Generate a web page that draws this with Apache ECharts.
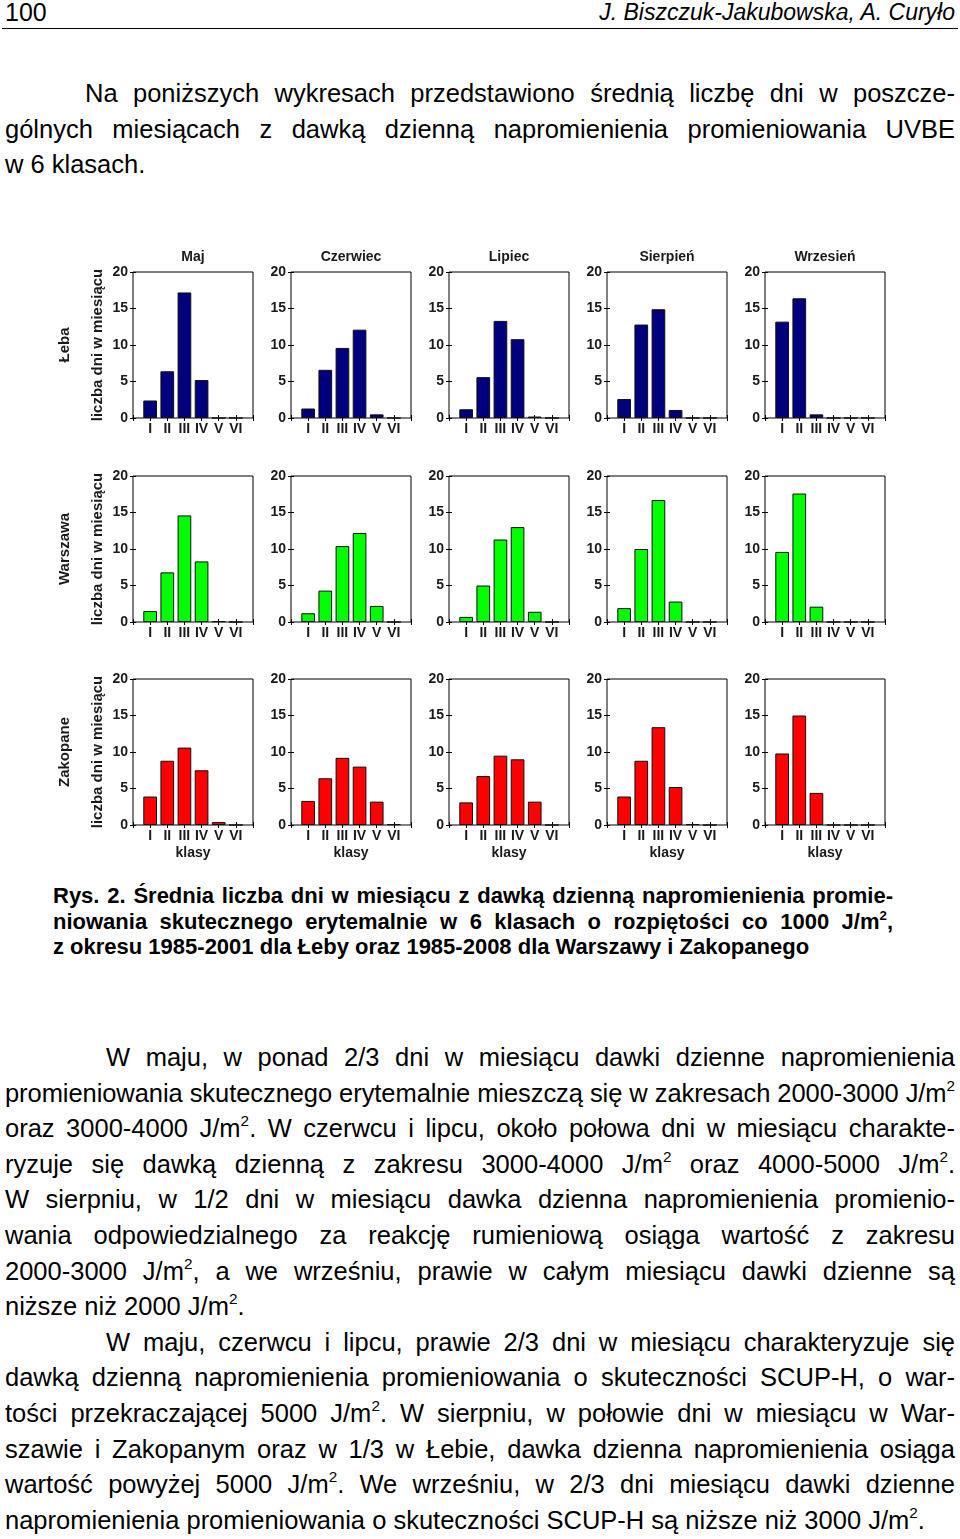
<!DOCTYPE html>
<html>
<head>
<meta charset="utf-8">
<script src="https://cdn.jsdelivr.net/npm/echarts/dist/echarts.min.js"></script>
<style>
    html, body { margin: 0; padding: 0; background: #fff; }
    body { width: 960px; height: 1539px; position: relative; overflow: hidden;
           font-family: 'Liberation Sans', Arial, sans-serif; color: #000; }
    .line { position: absolute; white-space: nowrap; }
    .body { font-size: 25.5px; line-height: 36px; }
    .cap { font-size: 22px; line-height: 26px; font-weight: bold; }
    sup { font-size: 60%; line-height: 0; vertical-align: 0.7em; }
    #rule { position: absolute; left: 2px; top: 28px; width: 956px; height: 0; border-top: 1.5px solid #000; }
    #fig { position: absolute; left: 0; top: 240px; width: 960px; height: 630px; }
</style>
</head>
<body>
<div class="line body" style="left:5px;top:-6px;font-size:25px;">100</div>
<div class="line body" style="right:5px;top:-6px;font-size:23px;font-style:italic;">J. Biszczuk-Jakubowska, A. Curyło</div>
<div id="rule"></div>
<div id="text"></div>
<div id="fig"></div>
<script>
// klasy dawki dziennej (oś X)
const classes = ['I', 'II', 'III', 'IV', 'V', 'VI']
const months = ['Maj', 'Czerwiec', 'Lipiec', 'Sierpień', 'Wrzesień']
const stations = ['Łeba', 'Warszawa', 'Zakopane']

// liczba dni w miesiącu, kolejno: maj, czerwiec, lipiec, sierpień, wrzesień
const leba = [
    [2.4, 6.4, 17.2, 5.2, 0, 0],
    [1.3, 6.6, 9.6, 12.1, 0.5, 0],
    [1.2, 5.6, 13.3, 10.8, 0.2, 0],
    [2.6, 12.8, 14.9, 1.1, 0, 0],
    [13.2, 16.4, 0.5, 0, 0, 0]
]
const warszawa = [
    [1.5, 6.8, 14.6, 8.3, 0.1, 0],
    [1.2, 4.3, 10.4, 12.2, 2.2, 0],
    [0.7, 5.0, 11.3, 13.0, 1.4, 0],
    [1.9, 10.0, 16.7, 2.8, 0, 0],
    [9.6, 17.6, 2.1, 0, 0, 0]
]
const zakopane = [
    [3.9, 8.8, 10.6, 7.5, 0.4, 0],
    [3.3, 6.4, 9.2, 8.0, 3.2, 0.1],
    [3.1, 6.7, 9.5, 9.0, 3.2, 0],
    [3.9, 8.8, 13.4, 5.2, 0.1, 0],
    [9.8, 15.0, 4.4, 0, 0, 0]
]
const yTicks = [0, 5, 10, 15, 20]

// ---- tekst strony: [klasa, x, y środka, szerokość do wyjustowania (0 = bez)] ----
const textLines = [
    ['body', 85, 93, 870, 'Na poniższych wykresach przedstawiono średnią liczbę dni w poszcze-'],
    ['body', 5, 128.6, 950, 'gólnych miesiącach z dawką dzienną napromienienia promieniowania UVBE'],
    ['body', 5, 164.2, 0, 'w 6 klasach.'],
    ['cap', 53, 896, 840, 'Rys. 2. Średnia liczba dni w miesiącu z dawką dzienną napromienienia promie-'],
    ['cap', 53, 921.7, 840, 'niowania skutecznego erytemalnie w 6 klasach o rozpiętości co 1000 J/m<sup>2</sup>,'],
    ['cap', 53, 947.4, 0, 'z okresu 1985-2001 dla Łeby oraz 1985-2008 dla Warszawy i Zakopanego'],
    ['body', 106, 1057, 849, 'W maju, w ponad 2/3 dni w miesiącu dawki dzienne napromienienia'],
    ['body', 5, 1092.6, 950, 'promieniowania skutecznego erytemalnie mieszczą się w zakresach 2000-3000 J/m<sup>2</sup>'],
    ['body', 5, 1128.2, 950, 'oraz 3000-4000 J/m<sup>2</sup>. W czerwcu i lipcu, około połowa dni w miesiącu charakte-'],
    ['body', 5, 1163.8, 950, 'ryzuje się dawką dzienną z zakresu 3000-4000 J/m<sup>2</sup> oraz 4000-5000 J/m<sup>2</sup>.'],
    ['body', 5, 1199.4, 950, 'W sierpniu, w 1/2 dni w miesiącu dawka dzienna napromienienia promienio-'],
    ['body', 5, 1235, 950, 'wania odpowiedzialnego za reakcję rumieniową osiąga wartość z zakresu'],
    ['body', 5, 1270.6, 950, '2000-3000 J/m<sup>2</sup>, a we wrześniu, prawie w całym miesiącu dawki dzienne są'],
    ['body', 5, 1306.2, 0, 'niższe niż 2000 J/m<sup>2</sup>.'],
    ['body', 106, 1341.8, 849, 'W maju, czerwcu i lipcu, prawie 2/3 dni w miesiącu charakteryzuje się'],
    ['body', 5, 1377.4, 950, 'dawką dzienną napromienienia promieniowania o skuteczności SCUP-H, o war-'],
    ['body', 5, 1413, 950, 'tości przekraczającej 5000 J/m<sup>2</sup>. W sierpniu, w połowie dni w miesiącu w War-'],
    ['body', 5, 1448.6, 950, 'szawie i Zakopanym oraz w 1/3 w Łebie, dawka dzienna napromienienia osiąga'],
    ['body', 5, 1484.2, 950, 'wartość powyżej 5000 J/m<sup>2</sup>. We wrześniu, w 2/3 dni miesiącu dawki dzienne'],
    ['body', 5, 1519.8, 0, 'napromienienia promieniowania o skuteczności SCUP-H są niższe niż 3000 J/m<sup>2</sup>.']
]

const textBox = document.getElementById('text')
textLines.forEach(([cls, x, y, w, html]) => {
    const el = document.createElement('div')
    el.className = 'line ' + cls
    el.innerHTML = html
    const lh = cls === 'cap' ? 26 : 36
    el.style.left = x + 'px'
    el.style.top = (y - lh / 2) + 'px'
    textBox.appendChild(el)
    if (w) {
        // justowanie: rozciągnij odstępy między wyrazami, albo ściśnij litery
        const natural = el.getBoundingClientRect().width
        const txt = el.textContent
        const spaces = (txt.match(/ /g) || []).length
        if (natural <= w) {
            el.style.wordSpacing = ((w - natural) / spaces) + 'px'
        } else {
            el.style.letterSpacing = ((w - natural) / txt.length) + 'px'
        }
    }
})

// ---- wykresy ----
const stationData = [leba, warszawa, zakopane]
const barColors = ['#00007f', '#00ff00', '#ff0000']
const colLeft = [133, 291, 449, 607, 765]
const rowTop = [32, 236, 439]
const font = 'Liberation Sans'
const labelStyle = { fontFamily: font, fontSize: 14, fontWeight: 'bold', color: '#1a1a1a' }
const nameStyle = { fontFamily: font, fontSize: 15, fontWeight: 'bold', color: '#1a1a1a' }

const grid = []
const xAxis = []
const yAxis = []
const series = []

stationData.forEach((station, r) => {
    station.forEach((values, c) => {
        const g = grid.length
        grid.push({
            left: colLeft[c], top: rowTop[r], width: 120, height: 146,
            show: true, borderColor: '#000', borderWidth: 1, backgroundColor: '#fff',
            containLabel: false
        })
        const tick = { inside: true, length: 3, lineStyle: { color: '#000', width: 1 } }
        // oś dolna z klasami
        xAxis.push({
            gridIndex: g, type: 'value', position: 'bottom', min: 0, max: 7, interval: 1,
            axisLine: { show: false }, axisTick: tick, splitLine: { show: false },
            axisLabel: Object.assign({ margin: 4, formatter: v => classes[v - 1] || '' }, labelStyle),
            name: r === 2 ? 'klasy' : '', nameLocation: 'middle', nameGap: 21,
            nameTextStyle: labelStyle
        })
        const xb = xAxis.length - 1
        // oś górna (lustrzane znaczniki + nazwa miesiąca)
        xAxis.push({
            gridIndex: g, type: 'value', position: 'top', min: 0, max: 7, interval: 1,
            axisLine: { show: false }, axisTick: tick, splitLine: { show: false },
            axisLabel: { show: false },
            name: r === 0 ? months[c] : '', nameLocation: 'middle', nameGap: 8,
            nameTextStyle: labelStyle
        })
        yAxis.push({
            gridIndex: g, type: 'value', position: 'left', min: 0, max: 20, interval: 5,
            axisLine: { show: false }, axisTick: tick, splitLine: { show: false },
            axisLabel: Object.assign({ margin: 5, formatter: v => yTicks.includes(v) ? String(v) : '' }, labelStyle),
            name: c === 0 ? 'liczba dni w miesiącu' : '', nameLocation: 'middle', nameRotate: 90, nameGap: 28,
            nameTextStyle: nameStyle
        })
        const yl = yAxis.length - 1
        yAxis.push({
            gridIndex: g, type: 'value', position: 'right', min: 0, max: 20, interval: 5,
            axisLine: { show: false }, axisTick: tick, splitLine: { show: false },
            axisLabel: { show: false }
        })
        if (c === 0) {
            yAxis.push({
                gridIndex: g, type: 'value', position: 'left', min: 0, max: 20,
                axisLine: { show: false }, axisTick: { show: false }, splitLine: { show: false },
                axisLabel: { show: false },
                name: stations[r], nameLocation: 'middle', nameRotate: 90, nameGap: 61,
                nameTextStyle: nameStyle
            })
        }
        series.push({
            type: 'bar', xAxisIndex: xb, yAxisIndex: yl,
            data: values.map((v, i) => [i + 1, v]),
            barWidth: 13.7,
            itemStyle: { color: barColors[r], borderColor: '#111', borderWidth: 1 },
            silent: true
        })
    })
})

const chart = echarts.init(document.getElementById('fig'))
chart.setOption({
    animation: false,
    grid: grid,
    xAxis: xAxis,
    yAxis: yAxis,
    series: series
})
</script>
</body>
</html>
